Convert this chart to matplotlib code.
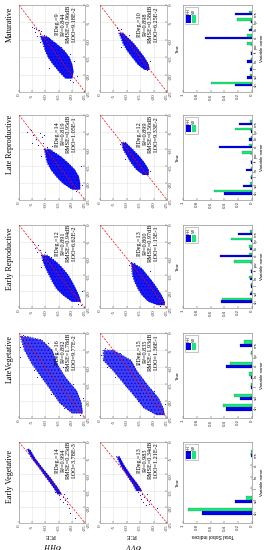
import numpy as np
import matplotlib
matplotlib.use('Agg')
import matplotlib.pyplot as plt
from matplotlib.patches import Rectangle

plt.rcParams['axes.unicode_minus'] = False
plt.rcParams['mathtext.fontset'] = 'stix'
plt.rcParams['hatch.linewidth'] = 0.6

# ---------------- data ----------------
stage_names = ['Maturative', 'Late Reproductive', 'Early Reproductive',
               'LateVegetative', 'Early Vegetative']

pdeg_hh = [9, 14, 12, 16, 14]
r2_hh = ['0.844', '0.819', '0.891', '0.892', '0.994']
rmse_hh = ['0.96', '0.95', '0.94', '1.78', '0.25']
loo_hh = ['9.18E-2', '1.05E-1', '6.62E-2', '9.77E-2', '3.78E-3']
pdeg_vv = [10, 12, 13, 15, 13]
r2_vv = ['0.898', '0.899', '0.800', '0.835', '0.983']
rmse_vv = ['0.58', '0.56', '0.97', '1.93', '0.34']
loo_vv = ['6.25E-2', '9.33E-2', '1.15E-1', '1.36E-1', '1.21E-2']

# dense-cloud envelopes: True level, PCE upper/lower bound
mat_hh_t = [-9, -11, -13, -15, -17, -19, -21]
mat_hh_hi = [-8, -9, -9.8, -11, -12.8, -15, -17.5]
mat_hh_lo = [-10.5, -14, -17, -19, -20, -20.5, -20]
mat_hh_out_t = [-6.3, -6.6, -7, -7.2, -7.8, -7.5, -8.2, -8.5, -8.8, -9.5, -10.5, -12, -14, -16, -18, -21.5, -22, -20.5]
mat_hh_out_p = [-4.9, -5.8, -6.5, -7.5, -6.2, -8.5, -7.8, -9.5, -6.9, -11.5, -7.8, -16, -19.5, -21, -11.5, -19.5, -20.5, -21.8]

mat_vv_t = [-8, -9.5, -11, -13, -15, -17, -18.5]
mat_vv_hi = [-7, -7.8, -8.5, -10, -12, -14, -16.5]
mat_vv_lo = [-8.5, -10.5, -12.5, -14.5, -16.5, -18, -18.3]
mat_vv_out_t = [-7.2, -7, -6.6, -8.5, -18.8, -16, -12]
mat_vv_out_p = [-6.8, -7.8, -6.5, -11, -17.5, -18.8, -8]

lr_hh_t = [-10, -12, -14, -16, -18, -20, -21.8]
lr_hh_hi = [-9.5, -10, -10.6, -12, -14, -16.5, -20]
lr_hh_lo = [-11.5, -15.5, -18.5, -21, -22.5, -23, -23]
lr_hh_out_t = [-5, -5.9, -5.3, -6.5, -8.2, -8.8, -8.2, -9.4, -7, -4.3, -6, -9, -12, -22.3, -15, -20.5]
lr_hh_out_p = [-3, -5.3, -8, -8.7, -4.9, -7.2, -9.1, -10.6, -6.3, -4.5, -9.5, -12.5, -8.5, -21.5, -23.5, -24]

lr_vv_t = [-8, -10, -12, -14, -16, -17.5]
lr_vv_hi = [-8, -8.5, -10, -11.5, -13.5, -16]
lr_vv_lo = [-9.5, -12, -14.5, -16.5, -18, -18]
lr_vv_out_t = [-8.5, -16.5, -13]
lr_vv_out_p = [-7.5, -18.8, -9.5]

er_hh_t = [-9, -11, -13, -15, -17, -19, -21, -23]
er_hh_hi = [-8.5, -9, -10, -11.3, -12.5, -14, -16.5, -20]
er_hh_lo = [-10.5, -14, -16.5, -18.5, -20, -21.3, -22.5, -23.3]
er_hh_out_t = [-5.1, -6, -7.5, -6.8, -8, -8.2, -9.5, -23.8, -24, -12.5, -20]
er_hh_out_p = [-5.3, -7.2, -8, -6, -7, -9.8, -12, -22.5, -23.5, -8.2, -23.8]

er_vv_t = [-11.5, -13, -15, -17, -19, -21, -23, -24]
er_vv_hi = [-11.5, -11.8, -12, -12.8, -14, -15.5, -18, -21.5]
er_vv_lo = [-12.5, -15.5, -17.5, -19.5, -21.2, -22.8, -24, -24]
er_vv_out_t = [-11, -11.4, -12, -24.5, -14]
er_vv_out_p = [-11.5, -12.5, -11, -22.5, -18.5]

lv_hh_t = [-1, -2, -5, -9, -13, -17, -20.5, -23.5]
lv_hh_hi = [-0.5, -0.8, -2, -4.8, -8.5, -12.2, -15.3, -20]
lv_hh_lo = [-3, -8.5, -12.5, -14.3, -17.5, -21.8, -23.5, -24]
lv_hh_out_t = [-3, -6, -10, -7, -15, -19, -11, -22, -0.5, -4, -13, -18, -24]
lv_hh_out_p = [-11, -14.5, -16.5, -0.5, -20.5, -24.3, -5.5, -17, -1.5, -0.3, -7, -12, -23]

lv_vv_t = [-5, -8, -11, -15, -19, -22, -24]
lv_vv_hi = [-1.2, -1.2, -4.8, -9, -13.3, -16.3, -21]
lv_vv_lo = [-5, -11.5, -13.6, -17.4, -21.7, -23.5, -24]
lv_vv_out_t = [-4.5, -6, -9, -13, -17, -21, -6.5, -10, -16, -20]
lv_vv_out_p = [-2, -7.5, -14.5, -5.5, -20, -24.3, -0.3, -2.5, -10, -14]

ev_hh_t = [-2.2, -5, -8, -11, -14, -16]
ev_hh_hi = [-3, -4.8, -7.6, -10.3, -13, -14.5]
ev_hh_lo = [-4, -6, -8.8, -11.8, -14.5, -16]
ev_hh_out_t = [-16.5, -17, -17.5, -18, -18.5, -17.2, -19, -20.3, -21.9, -23.5, -16, -15.5]
ev_hh_out_p = [-15, -16.5, -15.5, -17.5, -16.5, -18, -18, -19, -19.3, -21.2, -17, -13.8]

ev_vv_t = [-4.5, -7, -10, -13, -15]
ev_vv_hi = [-6.2, -7.5, -9.8, -12.2, -13.5]
ev_vv_lo = [-7.2, -8.8, -11.2, -14, -15.5]
ev_vv_out_t = [-15.5, -16, -16.5, -17, -17.5, -18, -18.5, -19, -19.4, -20.4, -17.8, -16.2]
ev_vv_out_p = [-14, -15.8, -14.8, -16.5, -15.3, -17.4, -16.2, -18.2, -17, -21.3, -18.8, -17.5]

# total Sobol indices
vars10 = ['sh', 'sd', 'li', 'lw', 'lt', 'pw', 'nl', 'ht', 'hp', 'ms']
vars7 = ['sh', 'sd', 'li', 'lw', 'nl', 'hp', 'ms']
vars6 = ['sh', 'sd', 'li', 'lw', 'nl', 'ms']
mat_sobol_hh = [0.24, 0.07, 0.03, 0.07, 0.01, 0.00, 0.68, 0.04, 0.02, 0.24]
mat_sobol_vv = [0.59, 0.03, 0.01, 0.01, 0.00, 0.07, 0.07, 0.02, 0.22, 0.05]
lr_sobol_hh = [0.41, 0.13, 0.02, 0.08, 0.01, 0.00, 0.48, 0.04, 0.02, 0.19]
lr_sobol_vv = [0.55, 0.03, 0.01, 0.02, 0.00, 0.15, 0.05, 0.02, 0.24, 0.03]
er_sobol_hh = [0.45, 0.03, 0.01, 0.03, 0.01, 0.00, 0.46, 0.03, 0.02, 0.20]
er_sobol_vv = [0.43, 0.01, 0.01, 0.04, 0.00, 0.26, 0.05, 0.04, 0.30, 0.03]
lv_sobol_hh = [0.38, 0.18, 0.01, 0.02, 0.38, 0.00, 0.18]
lv_sobol_vv = [0.42, 0.26, 0.01, 0.05, 0.32, 0.01, 0.12]
ev_sobol_hh = [0.72, 0.25, 0.00, 0.00, 0.00, 0.02]
ev_sobol_vv = [0.93, 0.08, 0.00, 0.00, 0.00, 0.02]

axis_ticks = [0, -5, -10, -15, -20, -25]
sobol_ticks = [1, 0.8, 0.6, 0.4, 0.2, 0]
sobol_tick_labels = ['1', '0.8', '0.6', '0.4', '0.2', '0']

# ---------------- layout (figure is drawn rotated by 90 degrees) ----------------
W, H = 266, 550
BLUE = '#0000ee'
GREEN = '#1ee67a'
SERIF = 'Liberation Serif'
SANS = 'Liberation Sans'
col_x = [(19, 85), (100, 167), (183, 252)]
row_y = [(5, 92), (115, 200), (225, 308), (333, 418), (442, 523)]
title_top = [7, 115, 228, 335, 450]
cloud_alpha = [0.92, 0.92, 0.9, 0.75, 0.95]

fig = plt.figure(figsize=(W / 100, H / 100), dpi=100)


def add_ax(cx, ry):
    x0, x1 = cx
    y0, y1 = ry
    return fig.add_axes([x0 / W, 1 - y1 / H, (x1 - x0) / W, (y1 - y0) / H])


scatter_sets = [
    [(mat_hh_t, mat_hh_hi, mat_hh_lo, mat_hh_out_t, mat_hh_out_p),
     (mat_vv_t, mat_vv_hi, mat_vv_lo, mat_vv_out_t, mat_vv_out_p)],
    [(lr_hh_t, lr_hh_hi, lr_hh_lo, lr_hh_out_t, lr_hh_out_p),
     (lr_vv_t, lr_vv_hi, lr_vv_lo, lr_vv_out_t, lr_vv_out_p)],
    [(er_hh_t, er_hh_hi, er_hh_lo, er_hh_out_t, er_hh_out_p),
     (er_vv_t, er_vv_hi, er_vv_lo, er_vv_out_t, er_vv_out_p)],
    [(lv_hh_t, lv_hh_hi, lv_hh_lo, lv_hh_out_t, lv_hh_out_p),
     (lv_vv_t, lv_vv_hi, lv_vv_lo, lv_vv_out_t, lv_vv_out_p)],
    [(ev_hh_t, ev_hh_hi, ev_hh_lo, ev_hh_out_t, ev_hh_out_p),
     (ev_vv_t, ev_vv_hi, ev_vv_lo, ev_vv_out_t, ev_vv_out_p)],
]
stats = [(pdeg_hh, r2_hh, rmse_hh, loo_hh), (pdeg_vv, r2_vv, rmse_vv, loo_vv)]
bar_sets = [(vars10, mat_sobol_hh, mat_sobol_vv), (vars10, lr_sobol_hh, lr_sobol_vv),
            (vars10, er_sobol_hh, er_sobol_vv), (vars7, lv_sobol_hh, lv_sobol_vv),
            (vars6, ev_sobol_hh, ev_sobol_vv)]

for r in range(5):
    # row title
    fig.text(10 / W, 1 - title_top[r] / H, stage_names[r], rotation=90,
             ha='center', va='top', fontsize=5.8, family=SERIF)
    for c in range(2):
        ax = add_ax(col_x[c], row_y[r])
        t, hi, lo, ot, op = scatter_sets[r][c]
        ax.fill_betweenx(t, lo, hi, color=BLUE, alpha=cloud_alpha[r], lw=0, zorder=2)
        ax.fill_betweenx(t, lo, hi, facecolor='none', edgecolor=BLUE, hatch='.....',
                         lw=0, zorder=2)
        ax.plot(list(hi) + list(lo[::-1]) + [hi[0]], list(t) + list(t[::-1]) + [t[0]],
                ls=':', color=BLUE, lw=0.7, zorder=2)
        ax.plot(op, ot, '.', color=BLUE, ms=1.6, mew=0, zorder=2)
        ax.plot([0, -25], [0, -25], ls='--', color='red', lw=0.5, dashes=(3, 2), zorder=3)
        ax.set_xlim(0, -25)
        ax.set_ylim(-25, 0)
        ax.set_xticks(axis_ticks)
        ax.set_yticks(axis_ticks)
        ax.set_xticklabels([str(v) for v in axis_ticks])
        ax.set_yticklabels([str(v) for v in axis_ticks])
        ax.yaxis.tick_right()
        ax.tick_params(direction='in', length=1.2, width=0.3, pad=1, labelsize=3.6,
                       colors='#333333')
        ax.tick_params(axis='x', labelrotation=90)
        ax.tick_params(axis='y', labelrotation=90)
        for lab in ax.get_xticklabels() + ax.get_yticklabels():
            lab.set_family(SERIF)
        ax.grid(True, color='#e3e3e3', lw=0.4, zorder=0)
        for s in ax.spines.values():
            s.set_color('#888888')
            s.set_linewidth(0.4)
        pd_, r2_, rm_, lo_ = stats[c]
        txt = 'P.Deg.=%d\nR²=%s\nRMSE=%sdB\nLOO=%s' % (pd_[r], r2_[r], rm_[r], lo_[r])
        ax.text(0.71, 0.78, txt, transform=ax.transAxes, rotation=90, ha='center',
                va='center', multialignment='center', fontsize=4.4, family=SERIF,
                linespacing=1.15, zorder=5)
        if c == 1:
            ax.text(1.16, 0.5, 'True', transform=ax.transAxes, rotation=90,
                    ha='center', va='center', fontsize=3.4, family=SERIF)
        if r == 4:
            name = r'$\sigma_{HH}$' if c == 0 else r'$\sigma_{VV}$'
            ax.text(0.5, -0.27, name, transform=ax.transAxes, rotation=180,
                    ha='center', va='center', fontsize=8)
            ax.text(0.47, -0.16, 'PCE', transform=ax.transAxes, rotation=180,
                    ha='center', va='center', fontsize=4.4, family=SERIF)

    # bar panel
    cats, shh, svv = bar_sets[r]
    axb = add_ax(col_x[2], row_y[r])
    idx = np.arange(1, len(cats) + 1)
    axb.barh(idx - 0.15, shh, height=0.3, color=BLUE, edgecolor='#000066', lw=0.15)
    axb.barh(idx + 0.15, svv, height=0.3, color=GREEN, edgecolor='#006633', lw=0.15)
    axb.set_xlim(1, 0)
    axb.set_ylim(0, len(cats) + 1)
    axb.set_xticks(sobol_ticks)
    axb.set_xticklabels(sobol_tick_labels)
    axb.set_yticks(idx)
    axb.set_yticklabels(cats)
    axb.yaxis.tick_right()
    axb.tick_params(direction='in', length=1.2, width=0.3, pad=1, labelsize=3.2,
                    colors='#333333')
    axb.tick_params(axis='x', labelrotation=90)
    axb.tick_params(axis='y', labelrotation=90)
    for lab in axb.get_xticklabels() + axb.get_yticklabels():
        lab.set_family(SANS)
    for s in axb.spines.values():
        s.set_color('#777777')
        s.set_linewidth(0.4)
    axb.text(1 + 10 / 69, 0.5, 'Variable name', transform=axb.transAxes, rotation=90,
             ha='center', va='center', fontsize=3.2, family=SANS)
    # legend (drawn rotated)
    axb.add_patch(Rectangle((0.03, 0.78), 0.19, 0.20, transform=axb.transAxes,
                            facecolor='white', edgecolor='#999999', lw=0.4, zorder=4))
    axb.add_patch(Rectangle((0.05, 0.795), 0.06, 0.09, transform=axb.transAxes,
                            facecolor=BLUE, lw=0, zorder=5))
    axb.add_patch(Rectangle((0.135, 0.795), 0.06, 0.09, transform=axb.transAxes,
                            facecolor=GREEN, lw=0, zorder=5))
    axb.text(0.08, 0.93, 'HH', transform=axb.transAxes, rotation=90, ha='center',
             va='center', fontsize=2.8, family=SANS, zorder=6)
    axb.text(0.165, 0.93, 'VV', transform=axb.transAxes, rotation=90, ha='center',
             va='center', fontsize=2.8, family=SANS, zorder=6)
    if r == 4:
        axb.text(0.43, -0.16, 'Total Sobol indices', transform=axb.transAxes,
                 rotation=180, ha='center', va='center', fontsize=3.6, family=SANS)

fig.savefig('out.png', dpi=100)
